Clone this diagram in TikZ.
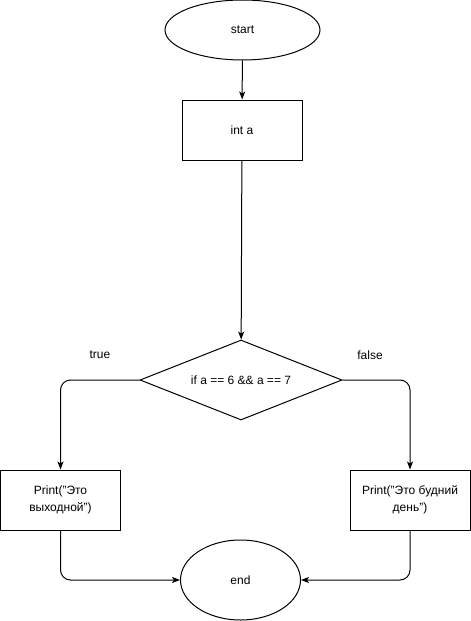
\documentclass[tikz,border=0pt]{standalone}
\usepackage{fontspec}
\setmainfont{Liberation Sans}
\usetikzlibrary{shapes.geometric,arrows.meta}
\begin{document}
\begin{tikzpicture}[x=1pt, y=-1pt, line width=1pt,
        every node/.style={font=\fontsize{12}{17}\selectfont, inner sep=0pt},
        terminal/.style={draw, ellipse, minimum width=#1, minimum height=60pt},
        stepbox/.style={draw, rectangle, minimum width=120pt, minimum height=60pt, align=center},
        decision/.style={draw, diamond, shape aspect=2.5, minimum width=202pt, minimum height=80pt},
        link/.style={-{Stealth[length=8pt, width=6pt, inset=2pt]}, rounded corners=10pt}]
    \useasboundingbox (0,0) rectangle (471,621);

    % blocks
    \node[terminal=155pt] (start) at (242.5,30) {start};
    \node[stepbox] (init) at (242,130) {int a};
    \node[decision] (cond) at (241,380) {if a == 6 \&\& a == 7};
    \node[stepbox] (holiday) at (60.5,500) {Print("Это\\выходной")};
    \node[stepbox] (workday) at (410,500) {Print("Это будний\\день")};
    \node[terminal=120pt, minimum height=80pt] (stop) at (240.5,580) {end};

    % branch labels
    \node (lbltrue) at (100,355) {true};
    \node (lblfalse) at (370,355) {false};

    % connectors
    \draw[link] (start) -- (init);
    \draw[link] (init) -- (cond);
    \draw[link] (cond.west) -| (holiday.north);
    \draw[link] (cond.east) -| (workday.north);
    \draw[link] (holiday.south) |- (stop.west);
    \draw[link] (workday.south) |- (stop.east);
\end{tikzpicture}
\end{document}
